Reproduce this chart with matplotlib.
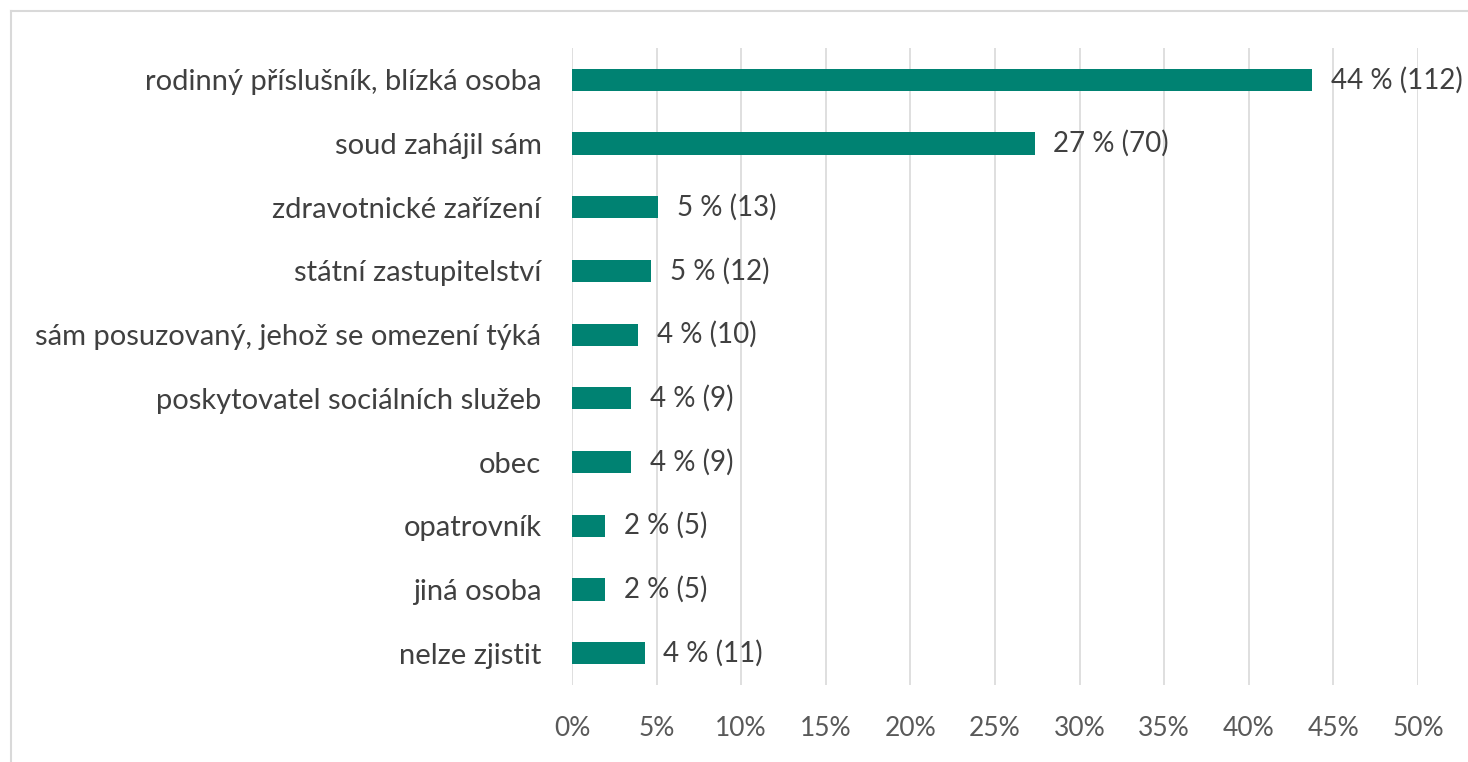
import numpy as np
import matplotlib.pyplot as plt
from matplotlib.lines import Line2D

categories = ['rodinný příslušník, blízká osoba', 'soud zahájil sám',
              'zdravotnické zařízení', 'státní zastupitelství',
              'sám posuzovaný, jehož se omezení týká',
              'poskytovatel sociálních služeb', 'obec', 'opatrovník',
              'jiná osoba', 'nelze zjistit']
counts = [112, 70, 13, 12, 10, 9, 9, 5, 5, 11]
pct_labels = ['44 %', '27 %', '5 %', '5 %', '4 %', '4 %', '4 %', '2 %', '2 %', '4 %']
total = 256
shares = [c / total for c in counts]
xticks = [0, 0.05, 0.10, 0.15, 0.20, 0.25, 0.30, 0.35, 0.40, 0.45, 0.50]

plt.rcParams['font.family'] = ['Lato', 'DejaVu Sans']

fig = plt.figure(figsize=(14.68, 7.62), dpi=100)
ax = fig.add_axes([572/1468, 1 - 685/762, (1418 - 572)/1468, (685 - 48)/762])

y = np.arange(len(categories))
ax.barh(y, shares, height=0.35, color='#008272', zorder=3)
for yi, s, p, c in zip(y, shares, pct_labels, counts):
    ax.text(s + 0.011, yi, f'{p} ({c})', va='center', ha='left',
            fontsize=20, color='#404040', zorder=4)

ax.set_ylim(len(categories) - 0.5, -0.5)
ax.set_xlim(0, 0.5)
ax.set_yticks(y)
ax.set_yticklabels(categories, fontsize=21, color='#404040')
ax.set_xticks(xticks)
ax.set_xticklabels([f'{int(round(t*100))}%' for t in xticks], fontsize=19, color='#595959')
ax.tick_params(axis='y', length=0, pad=22)
ax.tick_params(axis='x', length=0, pad=22)
ax.grid(axis='x', color='#d9d9d9', linewidth=1.2, zorder=0)
for sp in ax.spines.values():
    sp.set_visible(False)

# frame only on top and left, as in the source image
bx, by = 11/1468, 1 - 11/762
fig.lines.append(Line2D([bx, 1.0], [by, by], transform=fig.transFigure,
                        color='#d9d9d9', linewidth=1.5))
fig.lines.append(Line2D([bx, bx], [0, by], transform=fig.transFigure,
                        color='#d9d9d9', linewidth=1.5))

fig.savefig('out.png', dpi=100)
